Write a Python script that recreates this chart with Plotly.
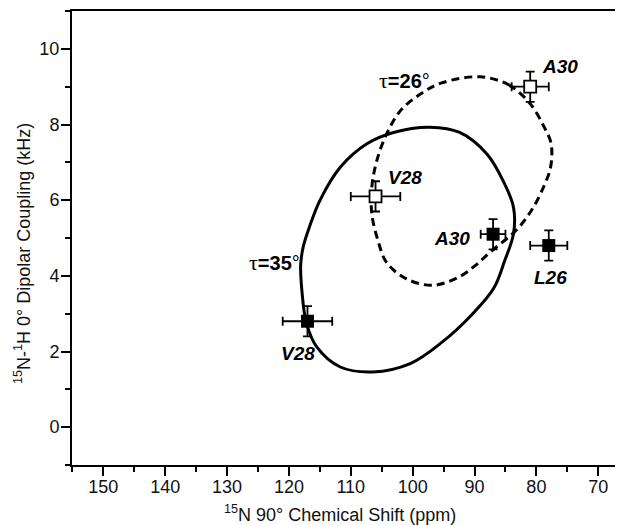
import plotly.graph_objects as go

# ---- data ----
filled_labels = ["V28", "A30", "L26"]
filled_x = [117, 87, 78]
filled_y = [2.8, 5.1, 4.8]
filled_xerr = [4, 2, 3]
filled_yerr = [0.4, 0.4, 0.4]

open_labels = ["V28", "A30"]
open_x = [106, 81]
open_y = [6.1, 9.0]
open_xerr = [4, 3]
open_yerr = [0.4, 0.4]

# PISA wheel tau=35 deg (solid), traced
wheel35_x = [97.2, 92.4, 88.0, 85.4, 83.7, 83.7, 85.1, 86.9, 90.4, 95.3, 100.4, 106.4,
             111.7, 115.5, 117.2, 117.9, 118.1, 117.7, 116.6, 115.0, 111.7, 107.4, 103.1, 97.2]
wheel35_y = [7.93, 7.79, 7.22, 6.52, 5.81, 5.11, 4.41, 3.67, 2.98, 2.24, 1.68, 1.46,
             1.59, 2.12, 2.77, 3.61, 4.27, 4.76, 5.33, 5.99, 6.87, 7.49, 7.79, 7.93]

# PISA wheel tau=26 deg (dashed), traced
wheel26_x = [89.1, 84.5, 81.0, 78.8, 77.7, 77.5, 77.8, 78.7, 80.5, 83.0, 87.5, 89.9, 92.4, 96.7,
             101.0, 104.2, 105.6, 106.6, 106.6, 105.8, 104.2, 102.0, 98.8, 95.3, 89.1]
wheel26_y = [9.26, 9.05, 8.55, 7.95, 7.55, 7.20, 6.80, 6.40, 5.81, 5.25, 4.62, 4.27, 3.98, 3.75,
             3.92, 4.35, 4.93, 5.64, 6.34, 7.04, 7.75, 8.36, 8.80, 9.10, 9.26]

x_ticks = [150, 140, 130, 120, 110, 100, 90, 80, 70]
y_ticks = [0, 2, 4, 6, 8, 10]

FONT = "Liberation Sans, Arial, sans-serif"

fig = go.Figure()

fig.add_trace(go.Scatter(x=wheel35_x, y=wheel35_y, mode="lines",
                         line=dict(color="black", width=3, shape="spline", smoothing=1.0),
                         hoverinfo="skip", showlegend=False))
fig.add_trace(go.Scatter(x=wheel26_x, y=wheel26_y, mode="lines",
                         line=dict(color="black", width=3, shape="spline", smoothing=1.0,
                                   dash="8px,5px"),
                         hoverinfo="skip", showlegend=False))

err_style = dict(type="data", color="black", thickness=1.8, width=4.5)

fig.add_trace(go.Scatter(
    x=filled_x, y=filled_y, mode="markers",
    marker=dict(symbol="square", size=13, color="black", line=dict(width=0)),
    error_x=dict(array=filled_xerr, **err_style),
    error_y=dict(array=filled_yerr, **err_style),
    showlegend=False))

fig.add_trace(go.Scatter(
    x=open_x, y=open_y, mode="markers",
    marker=dict(symbol="square", size=12, color="white", line=dict(width=1.8, color="black")),
    error_x=dict(array=open_xerr, **err_style),
    error_y=dict(array=open_yerr, **err_style),
    showlegend=False))

label_font = dict(family=FONT, size=19, color="black", weight="bold", style="italic")
filled_shift = [(-9, -32), (-41, -4), (2, -32)]
open_shift = [(29, 19), (30, 20)]
for lab, x, y, (dx, dy) in zip(filled_labels, filled_x, filled_y, filled_shift):
    fig.add_annotation(x=x, y=y, text=lab, showarrow=False, xshift=dx, yshift=dy,
                       font=label_font)
for lab, x, y, (dx, dy) in zip(open_labels, open_x, open_y, open_shift):
    fig.add_annotation(x=x, y=y, text=lab, showarrow=False, xshift=dx, yshift=dy,
                       font=label_font)

tau_font = dict(family=FONT, size=20, color="black")
tau_sym = "<span style='font-family:Liberation Serif;font-size:22px'>τ</span>"
fig.add_annotation(x=101.3, y=9.16, text=tau_sym + "<b>=26</b>°",
                   showarrow=False, font=tau_font)
fig.add_annotation(x=122.3, y=4.36, text=tau_sym + "<b>=35</b>°",
                   showarrow=False, font=tau_font)

# axis titles
fig.add_annotation(xref="paper", yref="paper", x=0.486, y=-0.106,
                   xanchor="center", yanchor="middle",
                   text="<sup>15</sup>N 90° Chemical Shift (ppm)", showarrow=False,
                   font=dict(family=FONT, size=18, color="#111"))
fig.add_annotation(xref="paper", yref="paper", x=-0.089, y=0.467, textangle=-90,
                   xanchor="center", yanchor="middle",
                   text="<sup>15</sup>N-<sup>1</sup>H 0° Dipolar Coupling (kHz)", showarrow=False,
                   font=dict(family=FONT, size=18, color="#111"))

fig.update_xaxes(range=[155.06, 66.0], tickvals=x_ticks, ticktext=[str(v) for v in x_ticks],
                 ticks="outside", ticklen=9, tickwidth=1.6, tickcolor="black",
                 minor=dict(dtick=5, tick0=0, ticks="outside", ticklen=5, tickwidth=1.6,
                            tickcolor="black", showgrid=False),
                 showline=True, linewidth=2, linecolor="black", mirror=True,
                 showgrid=False, zeroline=False, ticklabelstandoff=-5,
                 tickfont=dict(family=FONT, size=18, color="#111"))
fig.update_yaxes(range=[-1, 11], tickvals=y_ticks, ticktext=[str(v) for v in y_ticks],
                 ticks="outside", ticklen=9, tickwidth=1.6, tickcolor="black",
                 minor=dict(dtick=1, tick0=0, ticks="outside", ticklen=5, tickwidth=1.6,
                            tickcolor="black", showgrid=False),
                 showline=True, linewidth=2, linecolor="black", mirror=False,
                 showgrid=False, zeroline=False, ticklabelstandoff=-2,
                 tickfont=dict(family=FONT, size=18, color="#111"))

# page body has an 8px margin, so the figure is sized to fit the 623x525 window
fig.update_layout(width=615, height=517, margin=dict(l=64, r=0, t=3, b=60),
                  plot_bgcolor="white", paper_bgcolor="white", showlegend=False)

fig.write_html("out.html")
